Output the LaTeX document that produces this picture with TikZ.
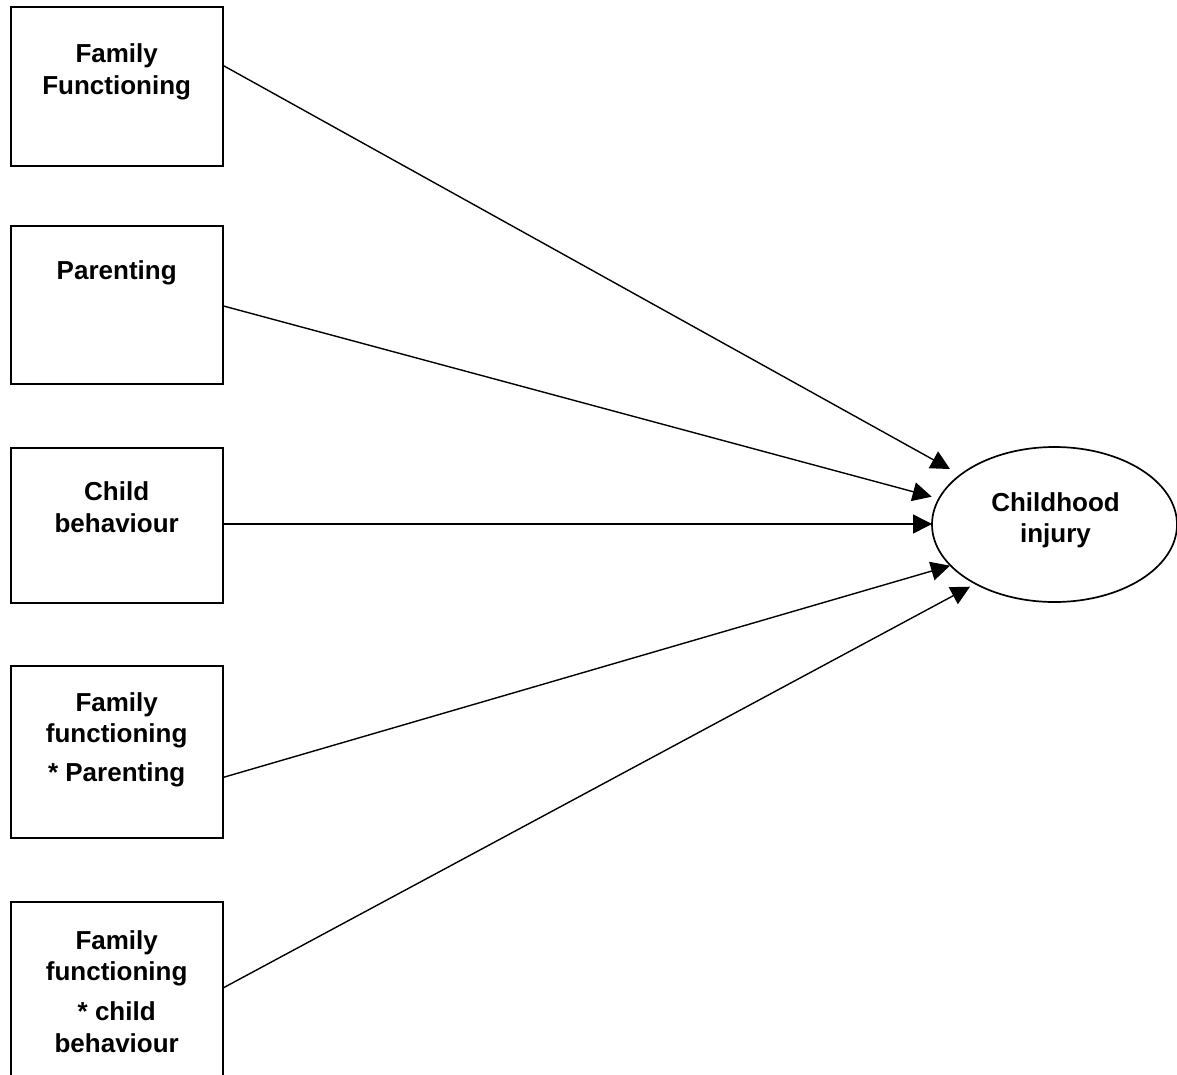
\documentclass[tikz,border=0pt]{standalone}
\usepackage{fontspec}
\setmainfont{Liberation Sans}
\usetikzlibrary{shapes.geometric,arrows.meta}
\tikzset{
  box/.style={draw=black, line width=1.7pt, minimum width=212pt, inner sep=0pt, fill=none},
  oval/.style={ellipse, draw=black, line width=1.7pt, minimum width=245pt, minimum height=155pt, inner sep=0pt},
  lbl/.style={anchor=base, inner sep=0pt, font=\fontsize{26}{31}\selectfont\bfseries},
  arr/.style={line width=1.4pt, -{Triangle[length=19pt,width=19pt]}},
}
\begin{document}
\begin{tikzpicture}[x=1pt,y=-1pt]
\clip (0,0) rectangle (1177,1074);
\fill[white] (0,0) rectangle (1177,1074);

% boxes
\node[box, minimum height=158.4pt] (b1) at (116.7,86.5) {};
\node[box, minimum height=158.3pt] (b2) at (116.7,304.85) {};
\node[box, minimum height=155pt]   (b3) at (116.7,525.8) {};
\node[box, minimum height=171.7pt] (b4) at (116.7,751.85) {};
\node[box, minimum height=200pt]   (b5) at (116.7,1002.3) {};

% box texts
\node[lbl] (t1a) at (116.7,62) {Family};
\node[lbl] (t1b) at (116.7,94) {Functioning};
\node[lbl] (t2a) at (116.7,279.5) {Parenting};
\node[lbl] (t3a) at (116.7,500) {Child};
\node[lbl] (t3b) at (116.7,532) {behaviour};
\node[lbl] (t4a) at (116.7,711) {Family};
\node[lbl] (t4b) at (116.7,742) {functioning};
\node[lbl] (t4c) at (116.7,781) {* Parenting};
\node[lbl] (t5a) at (116.7,949.5) {Family};
\node[lbl] (t5b) at (116.7,980.5) {functioning};
\node[lbl] (t5c) at (116.7,1020) {* child};
\node[lbl] (t5d) at (116.7,1052) {behaviour};

% outcome
\node[oval] (ci) at (1054.5,524.5) {};
\node[lbl] (cia) at (1055.5,511) {Childhood};
\node[lbl] (cib) at (1055.5,542) {injury};

% connector ends
\coordinate (s1) at (b1.east |- 0,65.7);
\coordinate (s2) at (b2.east |- 0,306);
\coordinate (s3) at (b3.east |- 0,524);
\coordinate (s4) at (b4.east |- 0,777.3);
\coordinate (s5) at (b5.east |- 0,987.7);
\coordinate (e1) at (950,469);
\coordinate (e2) at (931.7,496.7);
\coordinate (e3) at (932,524);
\coordinate (e4) at (950,565.7);
\coordinate (e5) at (970,586.7);

\draw[arr] (s1) -- (e1);
\draw[arr] (s2) -- (e2);
\draw[arr] (s3) -- (e3);
\draw[arr] (s4) -- (e4);
\draw[arr] (s5) -- (e5);
\end{tikzpicture}
\end{document}
